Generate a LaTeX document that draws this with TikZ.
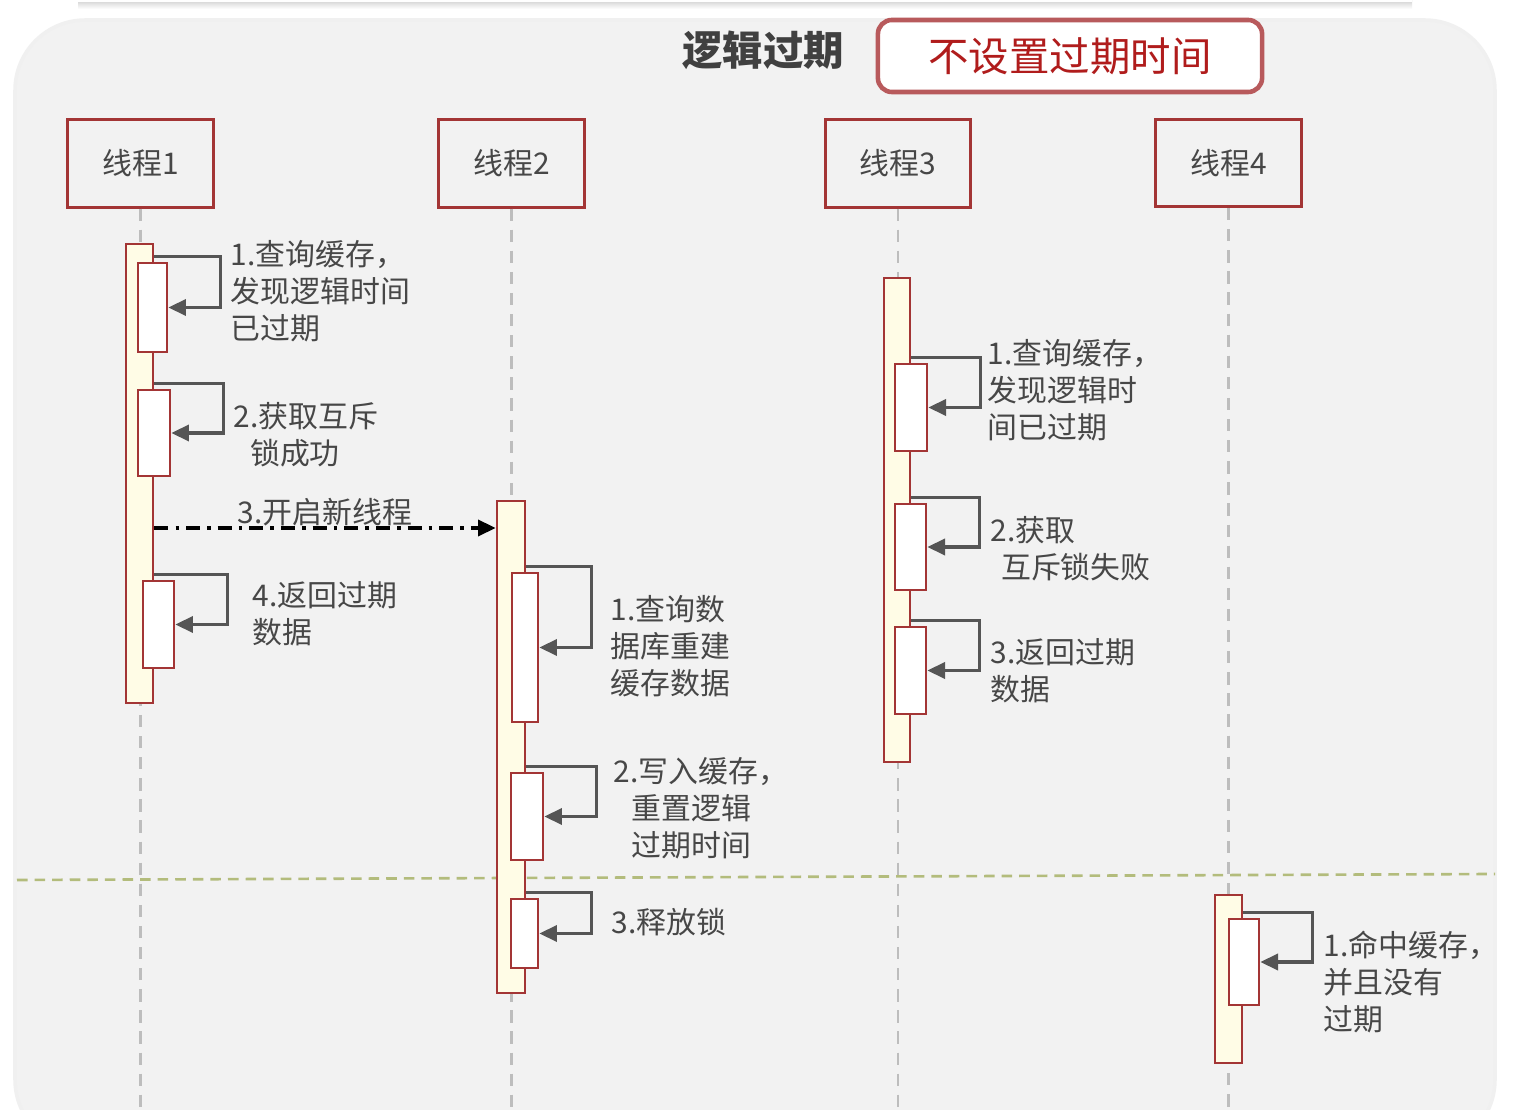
\documentclass[tikz,border=0pt]{standalone}
\usepackage{fontspec}
\setmainfont{Noto Sans CJK SC}
\usetikzlibrary{arrows.meta,fit,calc}
\definecolor{panelgray}{HTML}{F2F2F2}
\definecolor{boxred}{HTML}{A33535}
\definecolor{actfill}{HTML}{FFFCE6}
\definecolor{txtgray}{HTML}{474747}
\definecolor{arrgray}{HTML}{555555}
\definecolor{titlered}{HTML}{B85A5C}
\definecolor{notered}{HTML}{B01C1C}
\definecolor{sepgreen}{HTML}{B3BC7C}
\definecolor{lifegray}{HTML}{BDBDBD}

\begin{document}
\begin{tikzpicture}[x=0.01cm,y=-0.01cm]
  \tikzstyle{H}=[draw=boxred,line width=0.85pt,fill=panelgray,minimum width=1.45cm,minimum height=0.87cm,text=txtgray,font=\fontsize{8.5}{10}\selectfont]
  \tikzstyle{A}=[draw=boxred,line width=0.8pt,fill=actfill,inner sep=0pt]
  \tikzstyle{B}=[draw=boxred,line width=0.8pt,fill=white,inner sep=0pt]
  \tikzstyle{T}=[text=txtgray,font=\fontsize{8.5}{10.5}\selectfont,align=left,anchor=west,inner sep=0pt]
  \tikzstyle{life}=[lifegray,line width=0.6pt,dash pattern=on 3.5pt off 2.5pt]
  \tikzstyle{self}=[arrgray,line width=0.9pt,-{Triangle[length=5pt,width=4.6pt]}]

  \useasboundingbox (0,0) rectangle (1530,1110);
  \fill[white] (0,0) rectangle (1530,1110);
  % slide frame
  \shade[top color=black!16,bottom color=white] (78,1) rectangle (1412,9);
  \fill[white] (78,0) rectangle (1412,2);
  \draw[rounded corners=20pt,fill=panelgray,draw=black!6,line width=1pt] (15,20) rectangle (1495,1150);

  % title
  \node[text=black!75,font=\bfseries\fontsize{11.5}{12}\selectfont] (title) at (763,50) {逻辑过期};
  \node[draw=titlered,line width=1.3pt,fill=white,rounded corners=4pt,minimum width=3.84cm,minimum height=0.72cm,text=notered,font=\fontsize{11.5}{12}\selectfont] (note) at (1070,56) {不设置过期时间};

  % threads
  \node[H] (H1) at (140.5,163.5) {线程1};
  \node[H] (H2) at (511.5,163.5) {线程2};
  \node[H] (H3) at (898,163.5) {线程3};
  \node[H] (H4) at (1228.5,163) {线程4};
  \coordinate (E1) at (140,1110);
  \coordinate (E2) at (512,1110);
  \coordinate (E3) at (900,1110);
  \coordinate (E4) at (1230,1110);
  \draw[life] (H1.south) -- (H1.south |- E1);
  \draw[life] (H2.south) -- (H2.south |- E2);
  \draw[life] (H3.south) -- (H3.south |- E3);
  \draw[life] (H4.south) -- (H4.south |- E4);

  \coordinate (S1) at (17,880);
  \coordinate (S2) at (1495,874);
  \draw[sepgreen,line width=0.75pt,dash pattern=on 3pt off 2pt] (S1) -- (S2);

  % activations
  \node[A,fit={(126,244) (153,703)}] (A1) {};
  \node[A,fit={(497,501) (525,993)}] (A2) {};
  \node[A,fit={(884,278) (910,762)}] (A3) {};
  \node[A,fit={(1215,895) (1242,1063)}] (A4) {};

  \node[B,fit={(138,263) (167,352)}] (B1a) {};
  \node[B,fit={(138,390) (170,476)}] (B1b) {};
  \node[B,fit={(143,581) (174,668)}] (B1c) {};
  \node[B,fit={(512,573) (538,722)}] (B2a) {};
  \node[B,fit={(511,773) (543,860)}] (B2b) {};
  \node[B,fit={(511,899) (538,968)}] (B2c) {};
  \node[B,fit={(895,364) (927,451)}] (B3a) {};
  \node[B,fit={(895,504) (926,590)}] (B3b) {};
  \node[B,fit={(895,627) (926,714)}] (B3c) {};
  \node[B,fit={(1229,919) (1259,1005)}] (B4a) {};

  \foreach \a/\b in {A1/B1a,A1/B1b,A1/B1c,A2/B2a,A2/B2b,A2/B2c,A3/B3a,A3/B3b,A3/B3c,A4/B4a}
    \draw[self] ($(\a.east |- \b.north)+(0,-5)$) -| ($(\b.east)+(52,0)$) -- (\b.east);

  % new thread
  \coordinate (M3) at (0,528);
  \draw[black,line width=0.9pt,dash pattern=on 4pt off 2pt on 1pt off 2pt,-{Triangle[length=5pt,width=4.6pt]}]
    (A1.east |- M3) -- node[above,inner sep=0pt,text=txtgray,font=\fontsize{8.5}{10.5}\selectfont] (L13) {3.开启新线程} (A2.west |- M3);

  % labels
  \node[T] (L1a) at (230,291) {1.查询缓存，\\发现逻辑时间\\已过期};
  \node[T] (L1b) at (233,434.5) {2.获取互斥\\\hspace*{0.55em}锁成功};
  \node[T] (L1c) at (252,614) {4.返回过期\\数据};
  \node[T] (L2a) at (610,646) {1.查询数\\据库重建\\缓存数据};
  \node[T] (L2b) at (613,808) {2.写入缓存，\\\hspace*{0.6em}重置逻辑\\\hspace*{0.6em}过期时间};
  \node[T] (L2c) at (611,922) {3.释放锁};
  \node[T] (L3a) at (987,390) {1.查询缓存，\\发现逻辑时\\间已过期};
  \node[T] (L3b) at (990,549) {2.获取\\\hspace*{0.35em}互斥锁失败};
  \node[T] (L3c) at (990,671) {3.返回过期\\数据};
  \node[T] (L4a) at (1323,982) {1.命中缓存，\\并且没有\\过期};
\end{tikzpicture}
\end{document}
